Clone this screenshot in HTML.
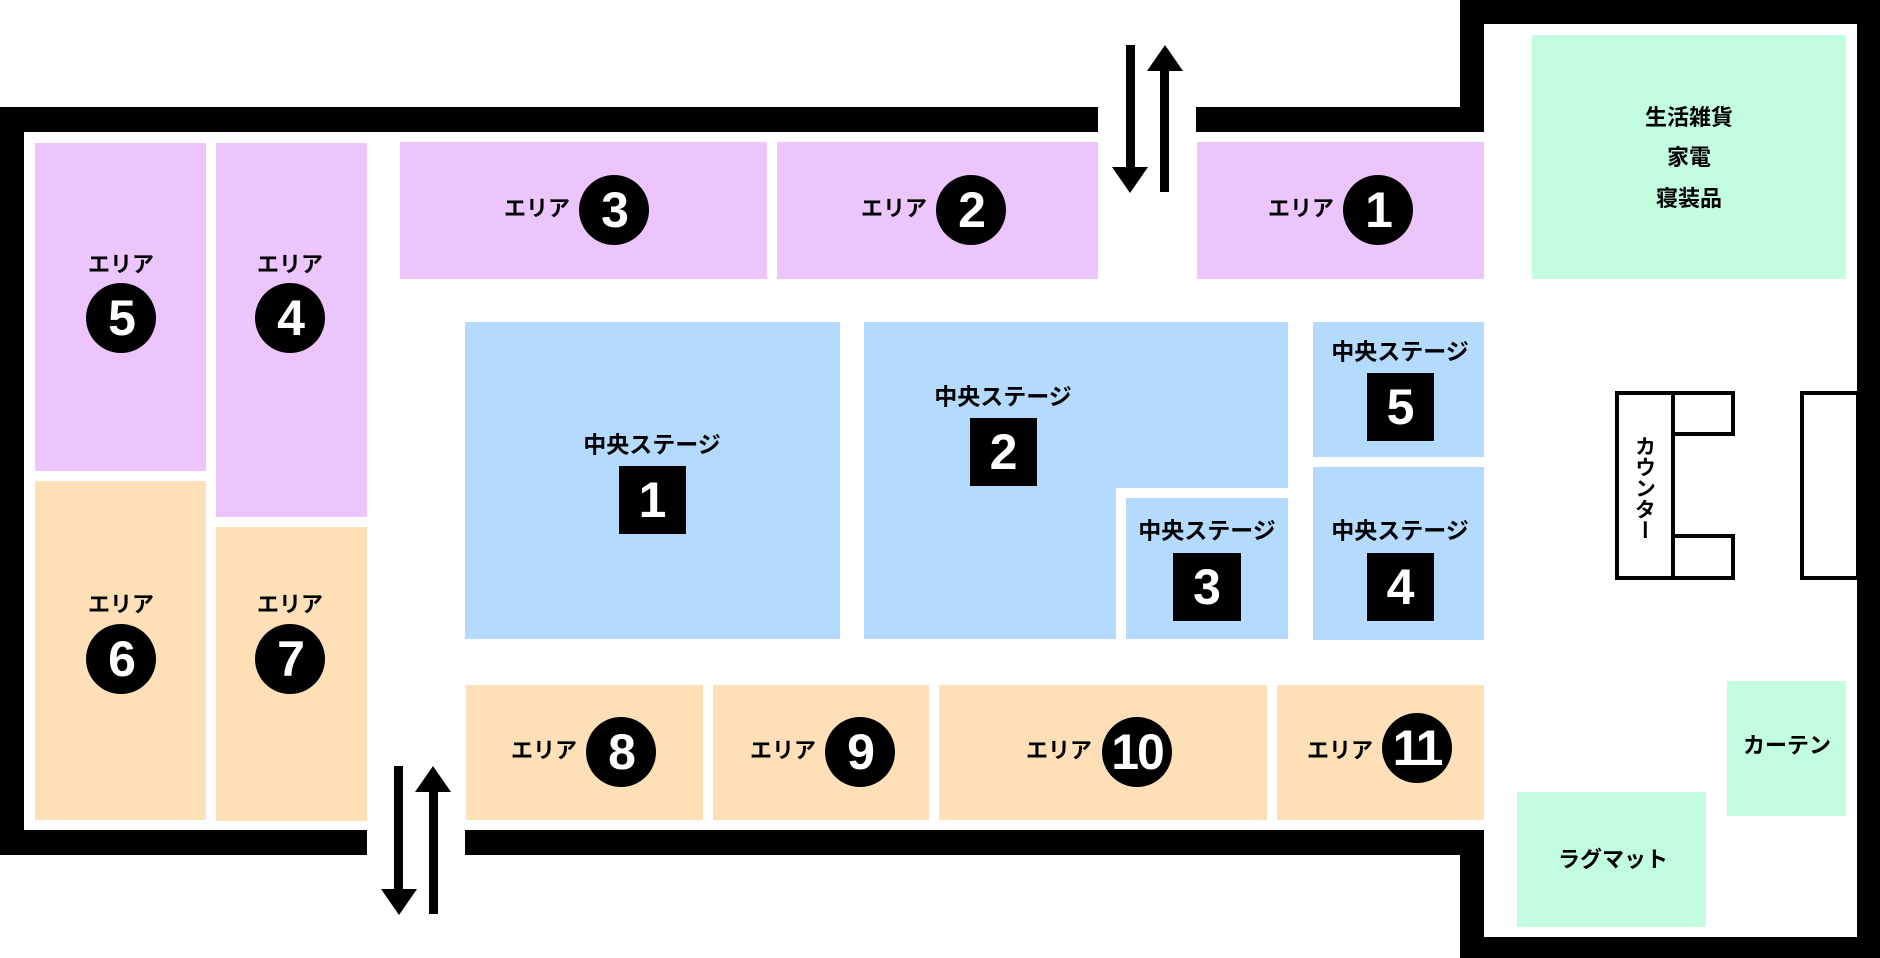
<!DOCTYPE html>
<html><head><meta charset="utf-8">
<style>
*{margin:0;padding:0;box-sizing:border-box}
body{width:1880px;height:958px;background:#fff;position:relative;overflow:hidden;font-family:"Liberation Sans","Noto Sans CJK JP",sans-serif}
div{position:absolute}
.k{background:#000}
.p{background:#ecc5fd}.b{background:#b4dafd}.o{background:#fde0b8}.g{background:#c2fde0}
.t{font-weight:bold;font-size:22px;line-height:1;white-space:nowrap;transform:translate(-50%,-50%);color:#000}
.c{width:70px;height:70px;border-radius:50%;background:#000;color:#fff;font-weight:bold;font-family:"Liberation Sans Narrow","Liberation Sans",sans-serif;font-size:50px;display:flex;align-items:center;justify-content:center;transform:translate(-50%,-50%);letter-spacing:-2px}
.sq{background:#000;color:#fff;font-weight:bold;font-family:"Liberation Sans Narrow","Liberation Sans",sans-serif;font-size:50px;display:flex;align-items:center;justify-content:center}
.gt{font-size:23px}
</style></head><body>
<!-- walls -->
<div class="k" style="left:0;top:107px;width:1098px;height:25px"></div>
<div class="k" style="left:1196px;top:107px;width:288px;height:25px"></div>
<div class="k" style="left:1460px;top:0;width:24px;height:132px"></div>
<div class="k" style="left:1460px;top:0;width:420px;height:24px"></div>
<div class="k" style="left:1857px;top:0;width:23px;height:958px"></div>
<div class="k" style="left:0;top:107px;width:24px;height:748px"></div>
<div class="k" style="left:0;top:830px;width:367px;height:25px"></div>
<div class="k" style="left:465px;top:830px;width:1019px;height:25px"></div>
<div class="k" style="left:1460px;top:830px;width:24px;height:128px"></div>
<div class="k" style="left:1460px;top:937px;width:420px;height:21px"></div>

<!-- arrows top -->
<div class="k" style="left:1126px;top:45px;width:9px;height:125px"></div>
<svg style="position:absolute;left:1112px;top:167px" width="36" height="26"><polygon points="0,0 36,0 18,26" fill="#000"/></svg>
<div class="k" style="left:1160px;top:68px;width:9px;height:124px"></div>
<svg style="position:absolute;left:1147px;top:45px" width="36" height="26"><polygon points="0,26 36,26 18,0" fill="#000"/></svg>
<!-- arrows bottom -->
<div class="k" style="left:394px;top:766px;width:9px;height:125px"></div>
<svg style="position:absolute;left:381px;top:889px" width="36" height="26"><polygon points="0,0 36,0 18,26" fill="#000"/></svg>
<div class="k" style="left:429px;top:789px;width:9px;height:125px"></div>
<svg style="position:absolute;left:415px;top:766px" width="36" height="26"><polygon points="0,26 36,26 18,0" fill="#000"/></svg>

<!-- purple -->
<div class="p" style="left:35px;top:143px;width:171px;height:328px"></div>
<div class="p" style="left:216px;top:143px;width:151px;height:374px"></div>
<div class="p" style="left:400px;top:142px;width:367px;height:137px"></div>
<div class="p" style="left:777px;top:142px;width:321px;height:137px"></div>
<div class="p" style="left:1197px;top:142px;width:287px;height:137px"></div>
<!-- orange -->
<div class="o" style="left:35px;top:481px;width:171px;height:339px"></div>
<div class="o" style="left:216px;top:527px;width:151px;height:294px"></div>
<div class="o" style="left:466px;top:685px;width:237px;height:135px"></div>
<div class="o" style="left:713px;top:685px;width:216px;height:135px"></div>
<div class="o" style="left:939px;top:685px;width:328px;height:135px"></div>
<div class="o" style="left:1277px;top:685px;width:207px;height:135px"></div>
<!-- blue -->
<div class="b" style="left:465px;top:322px;width:375px;height:317px"></div>
<div class="b" style="left:864px;top:322px;width:424px;height:166px"></div>
<div class="b" style="left:864px;top:487px;width:252px;height:152px"></div>
<div class="b" style="left:1126px;top:498px;width:162px;height:141px"></div>
<div class="b" style="left:1313px;top:322px;width:171px;height:135px"></div>
<div class="b" style="left:1313px;top:467px;width:171px;height:173px"></div>
<!-- green -->
<div class="g" style="left:1532px;top:35px;width:314px;height:244px"></div>
<div class="g" style="left:1727px;top:681px;width:119px;height:135px"></div>
<div class="g" style="left:1517px;top:792px;width:189px;height:135px"></div>

<!-- counter -->
<div style="left:1615px;top:391px;width:60px;height:189px;border:4px solid #000"></div>
<div style="left:1671px;top:391px;width:64px;height:45px;border:4px solid #000"></div>
<div style="left:1671px;top:534px;width:64px;height:46px;border:4px solid #000"></div>
<div style="left:1800px;top:391px;width:60px;height:189px;border:4px solid #000"></div>
<div class="t" style="left:1644px;top:488px;writing-mode:vertical-rl;font-size:21px;letter-spacing:0">カウンター</div>

<!-- area labels -->
<div class="t" style="left:121px;top:265px">エリア</div><div class="c" style="left:121px;top:318px">5</div>
<div class="t" style="left:290px;top:265px">エリア</div><div class="c" style="left:290px;top:318px">4</div>
<div class="t" style="left:537px;top:209px">エリア</div><div class="c" style="left:614px;top:210px">3</div>
<div class="t" style="left:894px;top:209px">エリア</div><div class="c" style="left:971px;top:210px">2</div>
<div class="t" style="left:1301px;top:209px">エリア</div><div class="c" style="left:1378px;top:210px">1</div>
<div class="t" style="left:121px;top:605px">エリア</div><div class="c" style="left:121px;top:659px">6</div>
<div class="t" style="left:290px;top:605px">エリア</div><div class="c" style="left:290px;top:659px">7</div>
<div class="t" style="left:544px;top:751px">エリア</div><div class="c" style="left:621px;top:752px">8</div>
<div class="t" style="left:783px;top:751px">エリア</div><div class="c" style="left:860px;top:752px">9</div>
<div class="t" style="left:1059px;top:751px">エリア</div><div class="c" style="left:1137px;top:752px">10</div>
<div class="t" style="left:1340px;top:751px">エリア</div><div class="c" style="left:1417px;top:748px">11</div>

<!-- stages -->
<div class="t gt" style="left:652px;top:445px">中央ステージ</div>
<div class="sq" style="left:619px;top:466px;width:67px;height:68px">1</div>
<div class="t gt" style="left:1003px;top:397px">中央ステージ</div>
<div class="sq" style="left:970px;top:418px;width:67px;height:68px">2</div>
<div class="t gt" style="left:1207px;top:531px">中央ステージ</div>
<div class="sq" style="left:1173px;top:553px;width:68px;height:68px">3</div>
<div class="t gt" style="left:1400px;top:531px">中央ステージ</div>
<div class="sq" style="left:1367px;top:553px;width:67px;height:68px">4</div>
<div class="t gt" style="left:1400px;top:352px">中央ステージ</div>
<div class="sq" style="left:1367px;top:373px;width:67px;height:68px">5</div>

<!-- green labels -->
<div class="t" style="left:1689px;top:118px">生活雑貨</div>
<div class="t" style="left:1689px;top:158px">家電</div>
<div class="t" style="left:1689px;top:199px">寝装品</div>
<div class="t" style="left:1787px;top:746px">カーテン</div>
<div class="t" style="left:1613px;top:860px">ラグマット</div>
</body></html>
